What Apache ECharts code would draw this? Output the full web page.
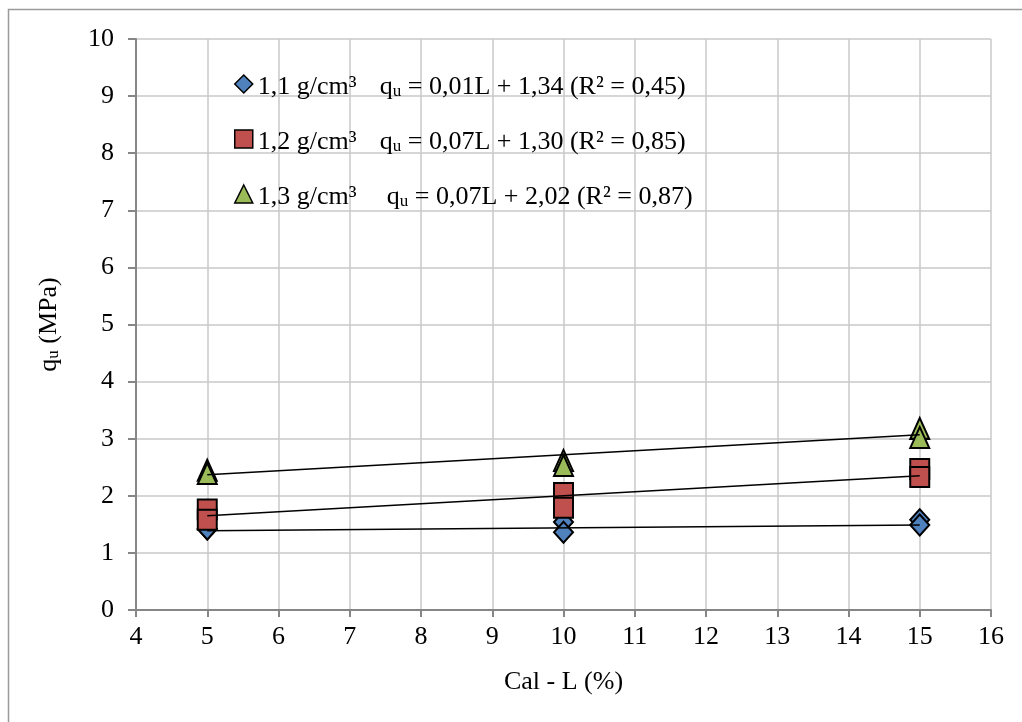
<!DOCTYPE html>
<html>
<head>
<meta charset="utf-8">
<script src="https://cdn.jsdelivr.net/npm/echarts@6/dist/echarts.min.js"></script>
<style>
  html, body { margin: 0; padding: 0; background: #fff; }
  #chart { width: 1022px; height: 722px; }
</style>
</head>
<body>
<div id="chart"></div>
<script>
// Densities (legend labels)
const densities = ['1,1 g/cm³', '1,2 g/cm³', '1,3 g/cm³'];
// Regression text per density
const equations = [
  ' = 0,01L + 1,34 (R² = 0,45)',
  ' = 0,07L + 1,30 (R² = 0,85)',
  ' = 0,07L + 2,02 (R² = 0,87)'
];
// Trend line coefficients (qu = slope * L + intercept)
const slopes = [0.01, 0.07, 0.07];
const intercepts = [1.34, 1.30, 2.02];

// Lime content of each specimen (%)
const limeContent = [5, 5, 10, 10, 15, 15];
// Unconfined compressive strength qu (MPa)
const qu11 = [1.42, 1.42, 1.54, 1.36, 1.58, 1.49];
const qu12 = [1.76, 1.58, 2.05, 1.79, 2.47, 2.33];
const qu13 = [2.45, 2.39, 2.62, 2.53, 3.18, 3.02];

const symbols = ['diamond', 'rect', 'triangle'];
const symbolSizes = [[19, 21], [19, 20], [19, 21]];
const colors = ['#4F81BD', '#C0504D', '#9BBB59'];
const trendRange = [5, 15];

const font = '"Liberation Serif", "Times New Roman", serif';
const fs = 26;

const seriesValues = [qu11, qu12, qu13];

const scatterSeries = seriesValues.map((vals, i) => ({
  name: densities[i],
  type: 'scatter',
  symbol: symbols[i],
  symbolSize: symbolSizes[i],
  itemStyle: { color: colors[i], borderColor: '#000', borderWidth: 2, opacity: 1 },
  data: vals.map((v, k) => [limeContent[k], v]),
  z: 3
}));

const trendSeries = slopes.map((s, i) => ({
  name: 'trend' + i,
  type: 'line',
  showSymbol: false,
  symbol: 'none',
  silent: true,
  lineStyle: { color: '#000', width: 1.5 },
  data: trendRange.map(x => [x, s * x + intercepts[i]]),
  z: 4
}));

// rich styles for "q" with subscript "u"
const subRich = {
  q: { fontFamily: font, fontSize: fs, color: '#000', verticalAlign: 'bottom', lineHeight: 32 },
  u: { fontFamily: font, fontSize: 17, color: '#000', verticalAlign: 'bottom', lineHeight: 15 },
  t: { fontFamily: font, fontSize: fs, color: '#000', verticalAlign: 'bottom', lineHeight: 32 }
};

const chart = echarts.init(document.getElementById('chart'), null, { renderer: 'canvas' });

chart.setOption({
  animation: false,
  backgroundColor: '#fff',
  graphic: [{
    type: 'rect',
    shape: { x: 8.5, y: 9.5, width: 1100, height: 800 },
    style: { fill: 'none', stroke: '#9a9a9a', lineWidth: 1.5 },
    silent: true,
    z: -10
  }],
  grid: { left: 136, top: 39, width: 855, height: 571, containLabel: false },
  xAxis: {
    type: 'value',
    min: 4, max: 16, interval: 1,
    name: 'Cal - L (%)',
    nameLocation: 'middle',
    nameGap: 59,
    nameTextStyle: { fontFamily: font, fontSize: fs, color: '#000' },
    axisLine: { show: true, onZero: false, lineStyle: { color: '#868686', width: 2 } },
    axisTick: { show: true, inside: false, length: 7, lineStyle: { color: '#868686', width: 2 } },
    axisLabel: { fontFamily: font, fontSize: fs, color: '#000', margin: 14 },
    splitLine: { show: true, lineStyle: { color: '#C8C8C8', width: 1.5 } }
  },
  yAxis: {
    type: 'value',
    min: 0, max: 10, interval: 1,
    name: '{q|q}{u|u}{t| (MPa)}',
    nameLocation: 'middle',
    nameGap: 74,
    nameRotate: 90,
    nameTextStyle: { fontFamily: font, fontSize: fs, color: '#000', rich: subRich },
    axisLine: { show: true, lineStyle: { color: '#868686', width: 2 } },
    axisTick: { show: true, inside: false, length: 8, lineStyle: { color: '#868686', width: 2 } },
    axisLabel: { fontFamily: font, fontSize: fs, color: '#000', margin: 22 },
    splitLine: { show: true, lineStyle: { color: '#C8C8C8', width: 1.5 } }
  },
  legend: {
    data: densities.map((d, i) => ({ name: d, icon: symbols[i] })),
    orient: 'vertical',
    left: 229,
    top: 69,
    itemGap: 29,
    itemWidth: 18,
    itemHeight: 18,
    selectedMode: false,
    itemStyle: { borderColor: '#000', borderWidth: 1.5 },
    formatter: function (name) {
      const i = densities.indexOf(name);
      const lead = i === 2 ? 'd3' : 'd';
      return '{' + lead + '|' + name + '}{q|q}{u|u}{t|' + equations[i] + '}';
    },
    textStyle: {
      fontFamily: font, fontSize: fs, color: '#000',
      rich: Object.assign({
        d: { fontFamily: font, fontSize: fs, color: '#000', width: 122, lineHeight: 32, verticalAlign: 'bottom' },
        d3: { fontFamily: font, fontSize: fs, color: '#000', width: 129, lineHeight: 32, verticalAlign: 'bottom' }
      }, subRich)
    }
  },
  series: [...trendSeries, ...scatterSeries]
});
</script>
</body>
</html>
